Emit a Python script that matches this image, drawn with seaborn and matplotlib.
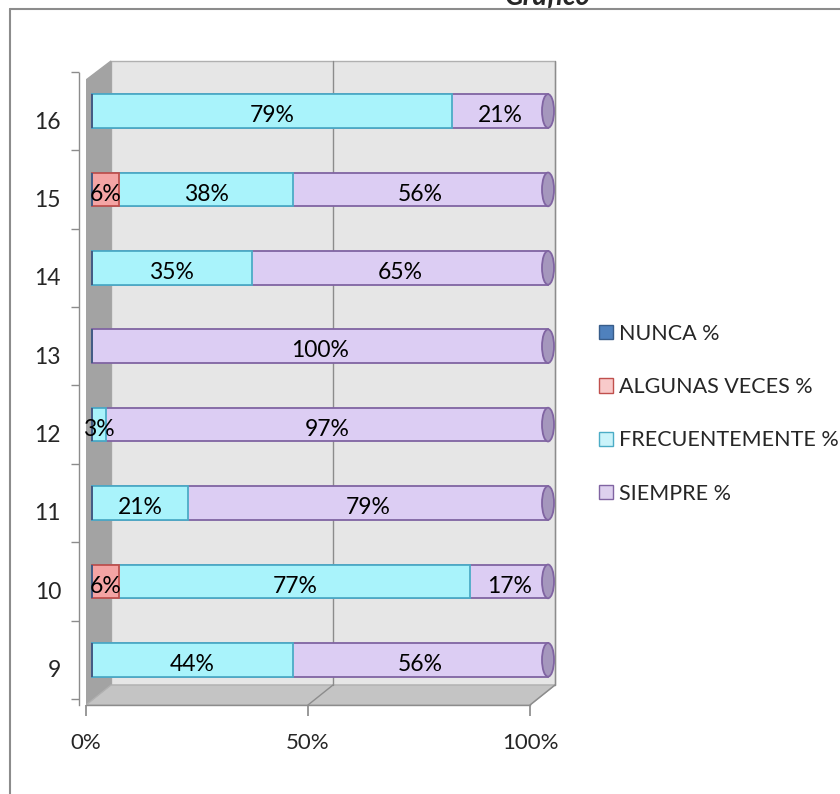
import matplotlib
matplotlib.use("Agg")
import matplotlib.pyplot as plt
import seaborn as sns
import pandas as pd
from matplotlib.patches import Polygon, Patch, Ellipse
from matplotlib.transforms import ScaledTranslation

# datos (porcentajes por pregunta)
preguntas = ["16", "15", "14", "13", "12", "11", "10", "9"]
nunca = [0, 0, 0, 0, 0, 0, 0, 0]
algunas = [0, 6, 0, 0, 0, 0, 6, 0]
frecuente = [79, 38, 35, 0, 3, 21, 77, 44]
siempre = [21, 56, 65, 100, 97, 79, 17, 56]

series = ["NUNCA %", "ALGUNAS VECES %", "FRECUENTEMENTE %", "SIEMPRE %"]
rellenos = ["#4f81bd", "#f4a4a4", "#a9f3fb", "#dccdf3"]
bordes = ["#385d8a", "#c0504d", "#4bacc6", "#8064a2"]
leyenda_rell = ["#4f81bd", "#f8caca", "#caf3fa", "#ddd0ee"]

sns.set_theme(style="white")
plt.rcParams["font.family"] = ["Lato", "DejaVu Sans"]

df = pd.DataFrame({"pregunta": preguntas,
                   "NUNCA %": nunca, "ALGUNAS VECES %": algunas,
                   "FRECUENTEMENTE %": frecuente, "SIEMPRE %": siempre})
# acumulados para apilar (de izquierda a derecha)
acum = df[series].cumsum(axis=1) / 100.0
inicio = acum - df[series] / 100.0

fig = plt.figure(figsize=(8.4, 7.94), dpi=100)
ax = fig.add_axes([86 / 840, 1 - 705 / 794, (560 - 86) / 840, (705 - 60) / 794])


def px2x(px):
    return (px - 92) / 456


def py2y(py):
    return (py - 111) / 78.4


# paredes del grafico 3D
gris = "#8c8c8c"
ax.add_patch(Polygon([(px2x(111), py2y(61)), (px2x(555), py2y(61)),
                      (px2x(555), py2y(685)), (px2x(111), py2y(685))],
                     closed=True, facecolor="#e6e6e6", edgecolor="#b0b0b0", lw=1, zorder=0))
ax.add_patch(Polygon([(px2x(86), py2y(80)), (px2x(111), py2y(61)),
                      (px2x(111), py2y(685)), (px2x(86), py2y(705))],
                     closed=True, facecolor="#a3a3a3", edgecolor="#a3a3a3", lw=1, zorder=0))
ax.add_patch(Polygon([(px2x(86), py2y(705)), (px2x(111), py2y(685)),
                      (px2x(555), py2y(685)), (px2x(530), py2y(705))],
                     closed=True, facecolor="#c4c4c4", edgecolor="#b0b0b0", lw=1, zorder=0))
for fx, bx in [(308, 333), (530, 555)]:
    ax.plot([px2x(bx), px2x(bx)], [py2y(61), py2y(685)], color=gris, lw=1, zorder=0.5)
    ax.plot([px2x(fx), px2x(bx)], [py2y(705), py2y(685)], color=gris, lw=1, zorder=0.5)

# barras apiladas: se dibujan de la mas larga a la mas corta
for i in [3, 2, 1, 0]:
    tmp = pd.DataFrame({"pregunta": preguntas, "x": acum[series[i]]})
    sns.barplot(data=tmp, x="x", y="pregunta", order=preguntas, orient="h",
                color=rellenos[i], saturation=1, edgecolor=bordes[i], linewidth=1.3,
                width=0.43, ax=ax, zorder=2)

# tapa del cilindro
for j, p in enumerate(preguntas):
    fin = acum.loc[j, "SIEMPRE %"]
    ax.add_patch(Ellipse((fin, j), width=12 / 456, height=0.43,
                         facecolor="#a597bd", edgecolor=bordes[3], lw=1.3, zorder=3))

# etiquetas de porcentaje
for i, s in enumerate(series):
    for j, p in enumerate(preguntas):
        v = df.loc[j, s]
        if v > 0:
            c = inicio.loc[j, s] + v / 200.0
            ax.text(c, j + 0.06, f"{v}%", ha="center", va="center", fontsize=16.5,
                    color="black", zorder=5)

ax.set_xlim(px2x(86), px2x(560))
ax.set_ylim(py2y(705), py2y(60))
ax.set_xlabel("")
ax.set_ylabel("")

# ejes
for sp in ["top", "right"]:
    ax.spines[sp].set_visible(False)
ax.spines["left"].set_position(("outward", 5))
ax.spines["left"].set_bounds(py2y(705), py2y(73))
ax.spines["bottom"].set_bounds(px2x(86), px2x(530))
for sp in ["left", "bottom"]:
    ax.spines[sp].set_color(gris)
    ax.spines[sp].set_linewidth(1)

ax.set_xticks([px2x(86), px2x(308), px2x(530)])
ax.set_xticklabels(["0%", "50%", "100%"], fontsize=16)
ax.tick_params(axis="x", bottom=True, length=8, color=gris, pad=12)

ax.set_yticks(range(len(preguntas)))
ax.set_yticklabels(preguntas, fontsize=16.5)
ax.set_yticks([k - 0.5 for k in range(len(preguntas) + 1)], minor=True)
ax.tick_params(axis="y", which="major", left=False, length=0, pad=13)
ax.tick_params(axis="y", which="minor", left=True, length=6, color=gris)
for lab in ax.get_yticklabels():
    lab.set_transform(lab.get_transform() + ScaledTranslation(0, -9 / 100, fig.dpi_scale_trans))

# leyenda
handles = [Patch(facecolor=leyenda_rell[i], edgecolor=bordes[i], label=series[i]) for i in range(4)]
fig.legend(handles=handles, loc="upper left", bbox_to_anchor=(588 / 840, 1 - 313 / 794),
           frameon=False, fontsize=15.5, labelspacing=1.55, handlelength=0.65,
           handleheight=0.65, handletextpad=0.3, borderpad=0)

# marco y titulo
fig.add_artist(plt.Line2D([10 / 840, 10 / 840], [0, 1 - 9 / 794], color="#8c8c8c", lw=1.5,
                          transform=fig.transFigure))
fig.add_artist(plt.Line2D([10 / 840, 1], [1 - 9 / 794, 1 - 9 / 794], color="#8c8c8c", lw=1.5,
                          transform=fig.transFigure))
fig.text(548 / 840, 1 - 5 / 794, "Gráfico", ha="center", va="baseline", fontsize=20,
         fontweight="bold", fontstyle="italic")

fig.savefig("out.png", dpi=100)
